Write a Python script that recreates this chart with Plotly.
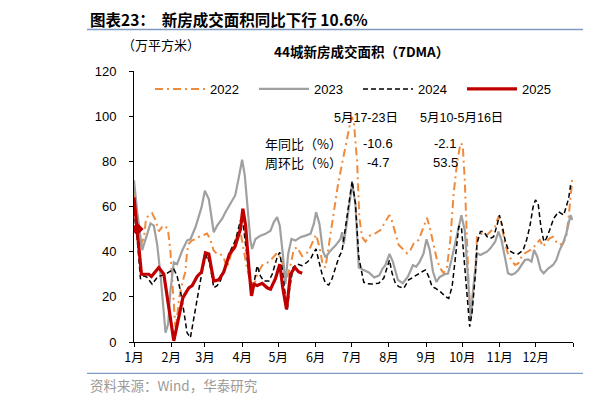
# 44城新房成交面积（7DMA）对比图

import plotly.graph_objects as go

# x = 当年第几天（1月1日=0），y = 万平方米
days_2022 = [0, 2.6, 5.4, 8.2, 10.1, 12.3, 15.1, 17.9, 20.6, 23.4, 26.2, 28.4, 30.3, 31.7, 33.1, 34.4,
             35.8, 37.7, 40.5, 42.7, 44.1, 45.5, 48.3, 51, 53.8, 56.6, 60.7, 63.4, 66.2, 69, 71.7, 74.5,
             77.3, 80, 84.2, 88.3, 91.1, 93.8, 96.6, 99.4, 102.4, 106.6, 110.7, 114.9, 119, 121.8, 124.5,
             127.3, 130.1, 132.9, 135.6, 139.8, 143.9, 146.7, 149.5, 151.4, 154.2, 157, 159.2, 161.9,
             166.1, 169.7, 173, 175.8, 178.6, 180.8, 182.7, 185.5, 187.4, 189.6, 192.4, 196.6, 200.7,
             204.9, 209, 212.4, 214.6, 217.3, 220.1, 222.9, 227, 229.8, 232.6, 236.7, 240.9, 243.6,
             246.4, 249.2, 251.9, 254.7, 257.5, 260.3, 263, 265.8, 268.6, 271.4, 273.3, 275, 276.9,
             278.3, 279.7, 281.6, 283.9, 285.2, 289.4, 293.5, 297.7, 300.3, 303, 305.5, 308.3, 311.3,
             314, 316.7, 319.5, 322.3, 325, 329.1, 331.9, 334.6, 337.4, 340.1, 342.9, 345.6, 348.4,
             351.1, 353.9, 356.7, 359.4, 361.4, 363, 364.5]
vals_2022 = [67, 46, 43, 46, 55, 56, 57, 54, 49, 51, 51.5, 49, 40, 28, 14, 6.5,
             11, 20, 27, 31, 40, 43.5, 45, 45.5, 46.5, 47, 48, 45.5, 40.5, 39, 39, 37.5,
             33, 37.5, 45, 49.5, 40.5, 33, 27, 24, 30, 34, 35, 37, 39.5, 37.5, 33,
             28.5, 34, 41, 42, 38, 39.5, 42, 45.5, 47.5, 42, 34, 33, 43,
             58, 70, 79, 86, 94, 99.7, 98, 80, 55, 46.5, 44.5, 47.4, 48.1,
             49.6, 53.3, 56.2, 53.3, 48.1, 43, 41.5, 39.3, 40.7, 43.7, 45.2, 51.1, 55,
             49.6, 42.2, 36.3, 32.6, 30.4, 33.4, 45.2, 65.9, 79.2, 88, 87.3, 71.7, 42.2,
             24.5, 12.7, 20.1, 33.4, 46.6, 48.1, 47.4, 49.6, 51.1, 55.5, 52.5, 43.7, 38.5,
             36.3, 34.1, 34.8, 37.8, 39.3, 40.7, 41.5, 43.7, 45.2, 42.2, 44.4, 45.9, 46.6,
             44.4, 43, 43.7, 46.6, 55.4, 65.7, 72.5]

days_2023 = [0, 2.6, 6.8, 13.7, 16.5, 19.3, 22, 24, 26.2, 28.4, 30.3, 33.1, 35.8, 40, 44.2, 46.9,
             51.1, 56.2, 58.9, 62.2, 66.3, 69.1, 73.2, 76, 81.5, 84.2, 87.2, 89.9, 92.1, 95.4, 96.8,
             98.2, 101, 105.2, 109.3, 113.5, 116.2, 119, 121.2, 123.7, 125.9, 128.2, 130.9, 134.2,
             138.4, 142.6, 146.7, 149.5, 151.4, 154.2, 157, 159.2, 163.3, 167.5, 171.7, 173, 174.4,
             177.2, 181.4, 184.1, 186.9, 191, 195.2, 199.8, 203.9, 206.7, 209, 212.4, 215.2, 219.4,
             223.5, 227.7, 231.9, 234.6, 237.4, 240.7, 243.2, 245.9, 248.6, 251.4, 254.2, 258.3,
             261.1, 263.9, 268, 272.2, 275, 277.7, 280, 281.7, 285.2, 288, 290.8, 293.5, 296.3, 300.3,
             303, 305.5, 308.3, 311, 314, 316.7, 319.5, 322.3, 325, 327.7, 330.5, 332.6, 335.3, 338.1,
             340.6, 344.3, 348.4, 351.1, 353.9, 356.7, 359.4, 363, 364.5]
vals_2023 = [71.6, 58, 40.7, 52.5, 51.5, 43, 30, 16.7, 4.1, 7.9, 22.7, 35.3, 34.5, 40.4, 45, 45.5,
             50.8, 59.7, 67, 63.3, 48.6, 51.5, 54.5, 57.5, 62.7, 65, 73, 80.7, 73.9, 55, 44.9,
             41.2, 45.6, 47.1, 47.9, 49.3, 53, 55.3, 51.5, 39, 25.6, 39, 45.6, 44.9,
             46.4, 47.1, 47.9, 52.3, 57.5, 52.3, 40.4, 37.5, 40.4, 42.7, 45.6, 48.6, 43.4,
             53.8, 70.1, 61.2, 33, 31.9, 30.8, 28.6, 29.5, 32.5, 34, 39, 35.6, 27.5,
             26, 28.9, 34, 33.4, 35.4, 39.1, 45.5, 40.7, 31.1, 26.6, 28.8, 30,
             30.3, 36.2, 46.5, 56.1, 49.5, 25.8, 10, 21.6, 39.3, 38.5, 39.3, 40, 41.5, 44.4,
             48.9, 45.2, 37.8, 30.4, 29.8, 30.4, 31.9, 34.1, 36.3, 36.6, 35.6, 40.7, 37.8, 31.9,
             30.4, 32.5, 34.1, 36.3, 40.7, 43.7, 48, 56.2, 54]

days_2024 = [0, 2.6, 5.4, 8.2, 10.9, 15.1, 19.3, 22, 26.2, 30.3, 33.1, 35.8, 38.6, 41.4, 44.1, 46.9,
             49.7, 52.4, 55.2, 58, 60.8, 63.5, 66.3, 69.1, 71.8, 74.6, 77.4, 80.2, 84.3, 88.5, 90.4,
             92.7, 95.4, 97, 99.6, 102.4, 105.1, 107.8, 112.1, 114.9, 119, 121.2, 123.1, 125.9, 127.3,
             129.5, 132.3, 135.6, 139.8, 143.9, 146.7, 149.5, 151.4, 153.6, 156.4, 159.2, 161.9, 164.7,
             167.5, 170.3, 173, 175.8, 178.6, 181.4, 184.1, 186.9, 191, 193.8, 198, 203.5, 207.7,
             210.4, 212.4, 214.6, 217.3, 220.1, 224.3, 228.4, 234, 239.5, 242.3, 245.1, 247.8, 250.6,
             254.7, 258.9, 261.7, 264.5, 267.3, 270, 272.2, 274.2, 276.9, 279.1, 281, 283.9, 285.2,
             288, 290.8, 293.5, 296.3, 299, 301.9, 303.8, 306, 308.8, 311.3, 315.7, 319.5, 323.6,
             326.4, 329.1, 331.9, 333.8, 336, 338.3, 340.8, 342.9, 345.6, 349, 353.1, 357.3, 361.4, 363]
vals_2024 = [58, 46, 27.9, 29.3, 28.6, 25.6, 28.6, 29.3, 30, 31.6, 32.3, 29.3, 22.7, 13.8, 4.1, 1.9,
             10.8, 19.7, 27.1, 34.5, 39, 33.2, 24.1, 24.9, 27.1, 31.6, 36, 40.4, 44.9, 53.8, 53.8,
             43.4, 31.6, 24, 25.6, 33.8, 29.3, 27, 27, 30, 37.5, 39.7, 32.9, 21, 13.8,
             24.1, 33, 34.5, 33.8, 35.3, 36.7, 39.7, 41.2, 36, 30, 26, 25.2, 28.1,
             33, 37.5, 40.4, 50.8, 61.2, 71.3, 61.2, 37.5, 26.5, 25.8, 25.7, 26, 28.3,
             33.4, 36.3, 30.4, 26, 24.5, 23.8, 27.5, 29.5, 31.1, 31.9, 28.9, 24.5, 23.8,
             22.3, 20.1, 19.3, 24.5, 37.8, 51.1, 51.1, 39.3, 20.1, 6.8, 12.7, 30.4, 43.7,
             48.9, 48.9, 46.6, 45.9, 46.6, 51.8, 56.2, 51.8, 44.4, 40.7, 39.3, 39, 40.7,
             45.2, 51.1, 60, 62.9, 61.4, 51.1, 44.4, 45.9, 49.6, 54.8, 57.7, 56.2, 63.6, 69.5]

days_2025 = [0, 2.6, 6.2, 12.3, 14.5, 20.6, 24.8, 33.1, 40.6, 45.6, 48.4, 52.5, 56.1, 59.4, 62.2,
             66.3, 70.5, 74.6, 79.4, 83.8, 88.5, 90.5, 92.7, 95.5, 97.7, 99.6, 102.4, 106.6, 110.7,
             113.5, 117.6, 121.2, 123.7, 126.8, 130.1, 133.7, 137, 139.8]
vals_2025 = [64, 50, 30, 30, 29, 33, 30, 0.5, 19.5, 24, 25, 29, 31, 39.5, 39,
             27, 27.5, 31, 39, 42, 50, 59, 52, 33, 20.4, 25.6, 25, 26, 24,
             23.4, 28, 34.5, 24, 14.5, 30, 33, 31, 30.4]

mark_day = [2.6]
mark_val = [50]

month_days = [0, 31, 59, 90, 120, 151, 181, 212, 243, 273, 304, 334, 365]
month_text = ["1月", "2月", "3月", "4月", "5月", "6月", "7月", "8月", "9月", "10月", "11月", "12月", ""]

table_cols = ["5月17-23日", "5月10-5月16日"]
table_rows = ["年同比（%）", "周环比（%）"]
table_vals = [["-10.6", "-2.1"], ["-4.7", "53.5"]]

FONT = "Liberation Sans, Arial, Noto Sans CJK SC, sans-serif"
CJK = "Noto Sans CJK SC, Liberation Sans, sans-serif"

fig = go.Figure()
fig.add_trace(go.Scatter(x=days_2022, y=vals_2022, mode="lines", name="2022",
                         line=dict(color="#F08A3C", width=2, dash="8px,4px,2px,4px")))
fig.add_trace(go.Scatter(x=days_2023, y=vals_2023, mode="lines", name="2023",
                         line=dict(color="#A0A0A0", width=2.2)))
fig.add_trace(go.Scatter(x=days_2024, y=vals_2024, mode="lines", name="2024",
                         line=dict(color="#000000", width=1.5, dash="5px,3px")))
fig.add_trace(go.Scatter(x=days_2025, y=vals_2025, mode="lines", name="2025",
                         line=dict(color="#C00000", width=3.2)))
fig.add_trace(go.Scatter(x=mark_day, y=mark_val, mode="markers", showlegend=False,
                         marker=dict(symbol="diamond", size=10, color="#C00000")))

# the page puts the figure 8px in from the top-left corner
OFF = 8
W, H = 616 - OFF, 403 - OFF
L, R, T, B = 134, 573, 71, 342  # plot area in screen pixels


def px(x):
    return (x - L) / (R - L)


def py(y):
    return (B - y) / (B - T)


ann = []
ann.append(dict(text="<b>图表23：\u00a0\u00a0新房成交面积同比下行 10.6%</b>", x=px(88), y=py(19),
                xanchor="left", font=dict(size=15.5, family=CJK)))
ann.append(dict(text="<b>图</b>", x=px(611), y=py(19), xanchor="left", font=dict(size=15.5, family=CJK)))
ann.append(dict(text="（万平方米）", x=px(161), y=py(45), font=dict(size=13, family=CJK)))
ann.append(dict(text="<b>44城新房成交面积（7DMA）</b>", x=px(361), y=py(51),
                font=dict(size=13.5, family=CJK)))
for cx, t in zip([366, 461], table_cols):
    ann.append(dict(text=t, x=px(cx), y=py(118), font=dict(size=12.5, family=FONT)))
for ry, t, row in zip([143, 162], table_rows, table_vals):
    ann.append(dict(text=t, x=px(303), y=py(ry), font=dict(size=13, family=CJK)))
    for cx, v in zip([378, 445], row):
        ann.append(dict(text=v, x=px(cx), y=py(ry), font=dict(size=13, family=FONT)))
ann.append(dict(text="资料来源：Wind，华泰研究", x=px(88), y=py(385), xanchor="left",
                font=dict(size=13.5, family=CJK, color="#9A9A9A")))
ann.append(dict(text="资", x=px(611), y=py(385), xanchor="left",
                font=dict(size=13.5, family=CJK, color="#9A9A9A")))
for a in ann:
    a.update(xref="paper", yref="paper", showarrow=False, yanchor="middle")
    a.setdefault("xanchor", "center")
    a["font"].setdefault("color", "#000000")

shapes = []
for yy in [29.5, 373.3]:
    shapes.append(dict(type="line", xref="paper", yref="paper", x0=px(87), x1=px(583),
                       y0=py(yy), y1=py(yy), line=dict(color="#7F9CC0", width=1.3)))
    shapes.append(dict(type="line", xref="paper", yref="paper", x0=px(611), x1=px(625),
                       y0=py(yy), y1=py(yy), line=dict(color="#7F9CC0", width=1.3)))

fig.update_layout(
    width=W, height=H,
    margin=dict(l=L - OFF, r=W - (R - OFF), t=T - OFF, b=H - (B - OFF)),
    paper_bgcolor="white", plot_bgcolor="white",
    font=dict(family=FONT, size=13, color="#000000"),
    annotations=ann, shapes=shapes,
    showlegend=True,
    legend=dict(orientation="h", x=px(150), y=py(89), xanchor="left", yanchor="middle",
                font=dict(size=13, family=FONT), itemwidth=50,
                entrywidth=39, entrywidthmode="pixels", bgcolor="rgba(0,0,0,0)"),
)
fig.update_xaxes(range=[0, 365], tickvals=month_days, ticktext=month_text, showgrid=False,
                 zeroline=False, showline=True, linecolor="#000000", linewidth=1,
                 ticks="outside", ticklen=4, tickcolor="#000000",
                 tickfont=dict(size=12.5, family=CJK))
fig.update_yaxes(range=[0, 120], tickvals=[0, 20, 40, 60, 80, 100, 120], showgrid=False,
                 zeroline=False, showline=True, linecolor="#000000", linewidth=1,
                 ticks="outside", ticklen=4, tickcolor="#000000", ticklabelstandoff=10,
                 tickfont=dict(size=13, family=FONT))

fig.write_html("out.html")
